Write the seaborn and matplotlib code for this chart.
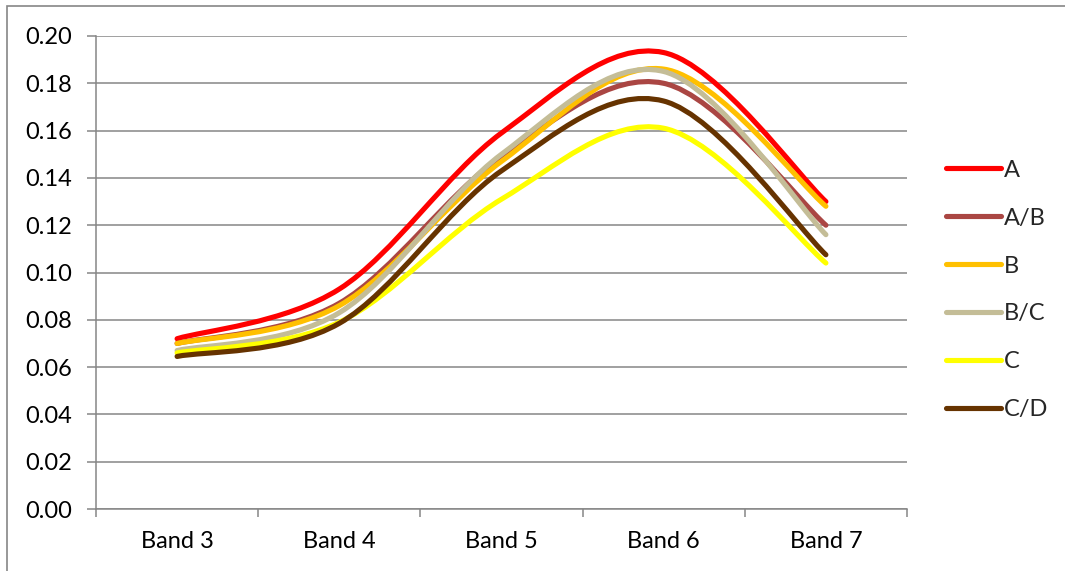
import numpy as np
import pandas as pd
import matplotlib
matplotlib.use("Agg")
import matplotlib.pyplot as plt
import seaborn as sns
from matplotlib.path import Path
from matplotlib.patches import PathPatch, Rectangle
from matplotlib.lines import Line2D

# ---- data ----
bands = ["Band 3", "Band 4", "Band 5", "Band 6", "Band 7"]
series_names = ["A", "A/B", "B", "B/C", "C", "C/D"]
vals_a = [0.072, 0.093, 0.159, 0.193, 0.130]
vals_ab = [0.070, 0.087, 0.149, 0.180, 0.120]
vals_b = [0.070, 0.086, 0.147, 0.186, 0.128]
vals_bc = [0.067, 0.083, 0.150, 0.185, 0.116]
vals_c = [0.066, 0.079, 0.131, 0.161, 0.104]
vals_cd = [0.0645, 0.0785, 0.143, 0.1725, 0.1075]
colors = ["#FF0000", "#AA4643", "#FFC000", "#C4BD97", "#FFFF00", "#663300"]

all_vals = [vals_a, vals_ab, vals_b, vals_bc, vals_c, vals_cd]
rows = []
for name, v in zip(series_names, all_vals):
    for i, b in enumerate(bands):
        rows.append({"series": name, "band": b, "pos": i, "value": v[i]})
df = pd.DataFrame(rows)

sns.set_theme(style="white")
plt.rcParams["font.family"] = ["Lato", "DejaVu Sans"]
FS = 17
GRAY = "#868686"

fig = plt.figure(figsize=(10.65, 5.71), dpi=100)
ax = fig.add_axes([96 / 1065, 1 - 509 / 571, (907 - 96) / 1065, (509 - 36) / 571])

sns.lineplot(data=df, x="pos", y="value", hue="series", hue_order=series_names,
             palette=colors, legend=False, linewidth=3.7, ax=ax, sort=False)


def smooth_path(xs, ys):
    pts = np.column_stack([xs, ys])
    n = len(pts)
    verts = [pts[0]]
    codes = [Path.MOVETO]
    for i in range(n - 1):
        p_prev = pts[max(i - 1, 0)]
        p0 = pts[i]
        p1 = pts[i + 1]
        p_next = pts[min(i + 2, n - 1)]
        c1 = p0 + (p1 - p_prev) / 6.0
        c2 = p1 - (p_next - p0) / 6.0
        verts += [c1, c2, p1]
        codes += [Path.CURVE4] * 3
    return Path(verts, codes)


# turn seaborn's straight polylines into smoothed curves (Excel-style)
for k, line in enumerate(list(ax.lines)):
    xy = line.get_xydata()
    patch = PathPatch(smooth_path(xy[:, 0], xy[:, 1]), facecolor="none",
                      edgecolor=line.get_color(), lw=3.7, capstyle="round",
                      joinstyle="round", zorder=3 + k * 0.01)
    ax.add_patch(patch)
    line.set_visible(False)

ax.set_xlim(-0.5, 4.5)
ax.set_ylim(0, 0.2)
ax.set_yticks(np.arange(0, 0.2001, 0.02))
ax.set_yticklabels([f"{t:.2f}" for t in np.arange(0, 0.2001, 0.02)])
ax.set_xticks(range(len(bands)))
ax.set_xticklabels(bands)
ax.set_xticks(np.arange(-0.5, 4.51, 1.0), minor=True)
ax.set_xlabel("")
ax.set_ylabel("")

ax.set_axisbelow(True)
ax.yaxis.grid(True, color=GRAY, lw=1.1)
ax.xaxis.grid(False)
for s in ["top", "right"]:
    ax.spines[s].set_visible(False)
for s in ["left", "bottom"]:
    ax.spines[s].set_color(GRAY)
    ax.spines[s].set_linewidth(1.1)

ax.tick_params(axis="y", which="major", left=True, direction="out", length=6.5,
               width=1.1, color=GRAY, pad=11, labelsize=FS, labelcolor="black")
ax.tick_params(axis="x", which="major", bottom=True, length=0, pad=15.5,
               labelsize=FS, labelcolor="black")
ax.tick_params(axis="x", which="minor", bottom=True, direction="out", length=5.5,
               width=1.1, color=GRAY)

handles = [Line2D([0], [0], color=c, lw=3.7, solid_capstyle="round") for c in colors]
fig.legend(handles, series_names, loc="center left",
           bbox_to_anchor=(946 / 1065, 1 - 290 / 571), frameon=False,
           fontsize=FS, handlelength=2.35, handletextpad=0.12, labelspacing=1.14,
           borderpad=0, borderaxespad=0)

fig.patches.append(Rectangle((7 / 1065, -0.05), 1.2, 1 - 6 / 571 + 0.05,
                             transform=fig.transFigure, fill=False,
                             edgecolor=GRAY, lw=1.2))

fig.savefig("out.png", dpi=100)
